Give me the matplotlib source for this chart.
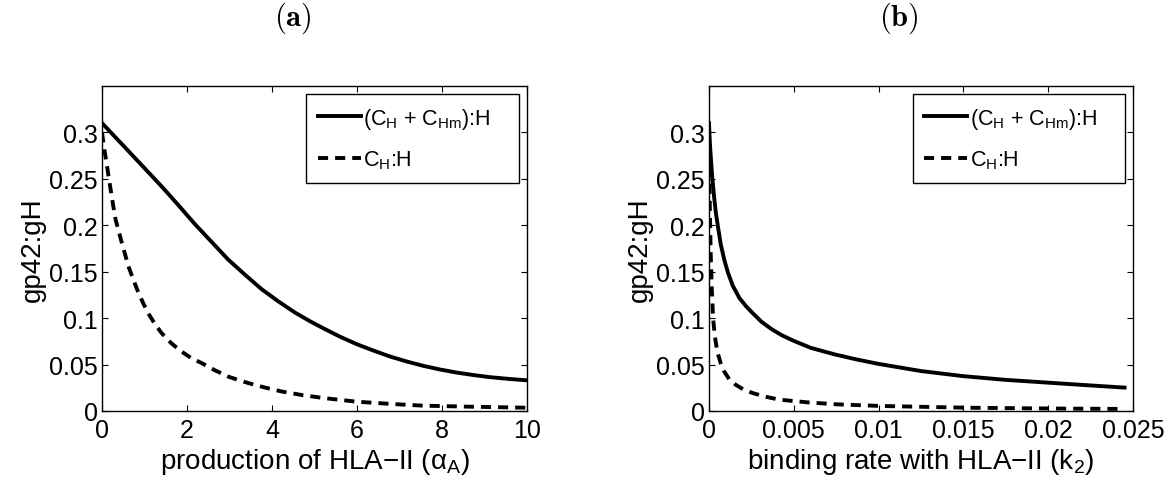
import matplotlib
matplotlib.use("Agg")
import matplotlib.pyplot as plt

plt.rcParams["font.family"] = ["Liberation Sans", "DejaVu Sans"]

# panel (a): production of HLA-II
alpha_solid = [0, 0.3, 0.62, 1.0, 1.40, 1.8, 2.19, 2.58, 2.97, 3.37, 3.76, 4.15, 4.54,
               4.88, 5.21, 5.6, 5.99, 6.39, 6.78, 7.17, 7.56, 7.95, 8.34, 8.74, 9.13,
               9.56, 10]
gp_solid_a = [0.310, 0.2955, 0.280, 0.2615, 0.242, 0.2215, 0.201, 0.182, 0.163, 0.1465,
              0.131, 0.118, 0.106, 0.097, 0.089, 0.080, 0.072, 0.065, 0.0586, 0.0533,
              0.0486, 0.0447, 0.0414, 0.0387, 0.0364, 0.0346, 0.033]
alpha_dash = [0, 0.05, 0.11, 0.19, 0.26, 0.32, 0.39, 0.46, 0.54, 0.62, 0.74, 0.86, 0.97,
              1.09, 1.24, 1.40, 1.63, 1.87, 2.1, 2.35, 2.65, 2.97, 3.3, 3.6, 3.9, 4.23,
              4.7, 5.2, 5.99, 6.8, 7.56, 8.8, 10]
gp_dash_a = [0.300, 0.283, 0.266, 0.242, 0.222, 0.206, 0.194, 0.182, 0.169, 0.156,
             0.141, 0.127, 0.116, 0.105, 0.094, 0.084, 0.073, 0.064, 0.057, 0.0515,
             0.044, 0.037, 0.032, 0.028, 0.0245, 0.021, 0.0172, 0.014, 0.010, 0.0076,
             0.0057, 0.0045, 0.0035]

# panel (b): binding rate with HLA-II
k2_solid = [0, 0.00005, 0.0001, 0.0002, 0.0003, 0.0004, 0.00055, 0.0007, 0.0009, 0.0011,
            0.0014, 0.0018, 0.0022, 0.0026, 0.0031, 0.0037, 0.0043, 0.005, 0.006,
            0.0074, 0.0087, 0.01, 0.0125, 0.015, 0.0175, 0.02, 0.0225, 0.0245]
gp_solid_b = [0.310, 0.29, 0.275, 0.250, 0.231, 0.214, 0.196, 0.179, 0.163, 0.150,
              0.135, 0.1215, 0.1125, 0.105, 0.096, 0.088, 0.0815, 0.0755, 0.068, 0.061,
              0.0555, 0.0507, 0.043, 0.0375, 0.0335, 0.0305, 0.0275, 0.0252]
k2_dash = [0, 0.00005, 0.0001, 0.00017, 0.00024, 0.00035, 0.00049, 0.00068, 0.00089,
           0.0012, 0.00157, 0.002, 0.00256, 0.0033, 0.00414, 0.0058, 0.0075, 0.0101,
           0.0153, 0.02, 0.0245]
gp_dash_b = [0.300, 0.22, 0.17, 0.13, 0.1, 0.08, 0.064, 0.052, 0.0427, 0.034, 0.0283,
             0.0235, 0.0194, 0.0155, 0.0122, 0.0093, 0.0072, 0.0054, 0.0035, 0.0027,
             0.0022]

yticks = [0, 0.05, 0.1, 0.15, 0.2, 0.25, 0.3]
yticklabels = ["0", "0.05", "0.1", "0.15", "0.2", "0.25", "0.3"]
xticks_a = [0, 2, 4, 6, 8, 10]
xticks_b = [0, 0.005, 0.01, 0.015, 0.02, 0.025]
xticklabels_b = ["0", "0.005", "0.01", "0.015", "0.02", "0.025"]

label_both = r"(C$_\mathregular{H}$ + C$_\mathregular{Hm}$):H"
label_ch = r"C$_\mathregular{H}$:H"

LW = 2.8
DASH = (2.6, 1.8)

fig = plt.figure(figsize=(11.74, 4.89), dpi=100)
ax_a = fig.add_axes([0.0869, 0.1575, 0.3620, 0.6646])
ax_b = fig.add_axes([0.6039, 0.1575, 0.3612, 0.6646])


def style_axis(ax):
    ax.set_ylim(0, 0.35)
    ax.set_yticks(yticks)
    ax.set_yticklabels(yticklabels)
    ax.tick_params(direction="in", top=True, right=True, length=4, width=0.8,
                   labelsize=18)
    ax.tick_params(axis="x", pad=5)
    ax.tick_params(axis="y", pad=3)
    for s in ax.spines.values():
        s.set_linewidth(1.0)
    ax.set_ylabel("gp42:gH", fontsize=20, labelpad=2)


ax_a.plot(alpha_solid, gp_solid_a, color="black", lw=LW, label=label_both)
ax_a.plot(alpha_dash, gp_dash_a, color="black", lw=LW, dashes=DASH, label=label_ch)
ax_a.set_xlim(0, 10)
ax_a.set_xticks(xticks_a)
style_axis(ax_a)
ax_a.set_xlabel(r"production of HLA−II (α$_\mathregular{A}$)", fontsize=20, labelpad=3)

ax_b.plot(k2_solid, gp_solid_b, color="black", lw=LW, label=label_both)
ax_b.plot(k2_dash, gp_dash_b, color="black", lw=LW, dashes=DASH, label=label_ch)
ax_b.set_xlim(0, 0.025)
ax_b.set_xticks(xticks_b)
ax_b.set_xticklabels(xticklabels_b)
style_axis(ax_b)
ax_b.set_xlabel(r"binding rate with HLA−II (k$_\mathregular{2}$)", fontsize=20, labelpad=3)

for ax in (ax_a, ax_b):
    leg = ax.legend(loc="upper left", bbox_to_anchor=(0.48, 0.5, 0.501, 0.475),
                    mode="expand", borderaxespad=0, fontsize=15.5, handlelength=2.0,
                    handletextpad=0.1, labelspacing=0.8, borderpad=0.55,
                    fancybox=False, framealpha=1)
    leg.get_frame().set_edgecolor("black")
    leg.get_frame().set_linewidth(1.0)

fig.text(293 / 1174, 1 - 18 / 489, r"$\mathbf{(a)}$", math_fontfamily="cm",
         fontsize=22, ha="center", va="center")
fig.text(899 / 1174, 1 - 18 / 489, r"$\mathbf{(b)}$", math_fontfamily="cm",
         fontsize=22, ha="center", va="center")

fig.savefig("out.png", dpi=100)
